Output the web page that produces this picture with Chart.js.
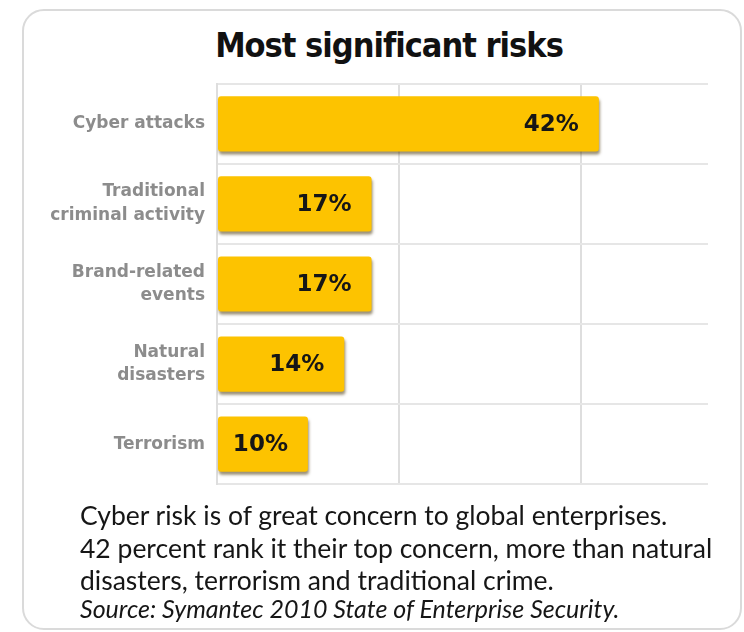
<!DOCTYPE html>
<html>
<head>
<meta charset="utf-8">
<title>Most significant risks</title>
<script src="https://cdn.jsdelivr.net/npm/chart.js@4/dist/chart.umd.min.js"></script>
<style>
  html, body { margin: 0; padding: 0; background: #fff; }
  body { width: 744px; height: 632px; position: relative; overflow: hidden; }
  .card {
    position: absolute; left: 22px; top: 9px; width: 716px; height: 617px;
    border: 2px solid #dadada; border-radius: 22px; box-sizing: content-box;
  }
  .title {
    position: absolute; left: 34px; width: 710px; top: 25px; margin: 0;
    text-align: center; font: bold 34px "Liberation Sans Narrow", "DejaVu Sans Condensed", Roboto, sans-serif;
    color: #111; letter-spacing: -1px;
  }
  .plot { position: absolute; left: 0; top: 60px; width: 744px; height: 448px; }
  .note {
    position: absolute; left: 80px; top: 499px; margin: 0;
    font: 26.5px/32.5px Lato, "Open Sans", sans-serif; color: #161616;
  }
  .source {
    position: absolute; left: 80px; top: 593px; margin: 0;
    font: italic 25px Lato, "Open Sans", sans-serif; color: #161616;
  }
</style>
</head>
<body>
<div class="card"></div>
<h1 class="title">Most significant risks</h1>
<div class="plot"><canvas id="risks"></canvas></div>
<p class="note">Cyber risk is of great concern to global enterprises.<br>42 percent rank it their top concern, more than natural<br>disasters, terrorism and traditional crime.</p>
<p class="source">Source: Symantec 2010 State of Enterprise Security.</p>

<script>
(function () {
  'use strict';

  // survey results, percent of respondents
  const categories = [
    'Cyber attacks',
    ['Traditional', 'criminal activity'],
    ['Brand-related', 'events'],
    ['Natural', 'disasters'],
    'Terrorism',
  ];
  const shares = [42, 17, 17, 14, 10];
  const xTicks = [0, 20, 40];
  const xMax = 54;

  const barColor = '#fdc300';
  const gridColor = '#dedede';

  // soft drop shadow under the bars, then the value written inside each bar end
  const barDecor = {
    id: 'barDecor',
    beforeDatasetsDraw(chart) {
      const ctx = chart.ctx;
      ctx.save();
      ctx.shadowColor = 'rgba(70, 50, 0, 0.55)';
      ctx.shadowBlur = 3;
      ctx.shadowOffsetX = 1;
      ctx.shadowOffsetY = 3;
    },
    afterDatasetsDraw(chart) {
      const ctx = chart.ctx;
      ctx.restore();
      ctx.save();
      ctx.font = 'bold 23px "DejaVu Sans", sans-serif';
      ctx.fillStyle = '#161616';
      ctx.textAlign = 'right';
      ctx.textBaseline = 'middle';
      chart.getDatasetMeta(0).data.forEach((bar, i) => {
        ctx.fillText(shares[i] + '%', bar.x - 20, bar.y + 1);
      });
      ctx.restore();
    },
  };

  new Chart(document.getElementById('risks'), {
    type: 'bar',
    data: {
      labels: categories,
      datasets: [{
        data: shares,
        backgroundColor: barColor,
        borderWidth: 0,
        borderRadius: 3,
        borderSkipped: false,
        categoryPercentage: 1,
        barPercentage: 0.69,
      }],
    },
    options: {
      indexAxis: 'y',
      responsive: true,
      maintainAspectRatio: false,
      animation: false,
      layout: { padding: { top: 4, right: 36, bottom: 8, left: 0 } },
      plugins: { legend: { display: false }, tooltip: { enabled: false } },
      scales: {
        x: {
          min: 0,
          max: xMax,
          afterBuildTicks: (scale) => { scale.ticks = xTicks.map((v) => ({ value: v })); },
          ticks: { display: false },
          grid: { color: gridColor, lineWidth: 2, drawTicks: false },
          border: { display: false },
        },
        y: {
          afterFit: (scale) => { scale.width = 217; },
          ticks: {
            color: '#8c8c8c',
            padding: 12,
            font: { family: '"DejaVu Sans", sans-serif', size: 17, weight: 'bold', lineHeight: 1.4 },
          },
          grid: { color: '#e6e6e6', lineWidth: 2, drawTicks: false, offset: true },
          border: { display: true, color: gridColor, width: 2 },
        },
      },
    },
    plugins: [barDecor],
  });
})();
</script>
</body>
</html>
